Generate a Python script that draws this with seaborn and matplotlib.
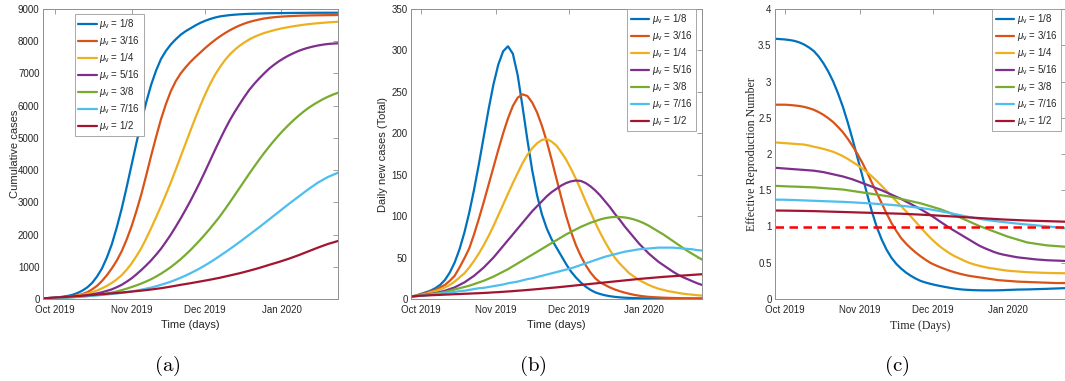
import pandas as pd
import matplotlib
matplotlib.use("Agg")
import matplotlib.pyplot as plt
import seaborn as sns

# ---------------- data ----------------
MU_LABELS = ["1/8", "3/16", "1/4", "5/16", "3/8", "7/16", "1/2"]
COLORS = ["#0072BD", "#D95319", "#EDB120", "#7E2F8E", "#77AC30", "#4DBEEE", "#A2142F"]

START_A = "2019-09-26"   # panel (a)
START_BC = "2019-09-27"  # panels (b) and (c)
STEP_DAYS = 2            # all series sampled every 2 days
SPAN_DAYS = 120

X_TICKS = ["2019-10-01", "2019-11-01", "2019-12-01", "2020-01-01"]
X_TICKLABELS = ["Oct 2019", "Nov 2019", "Dec 2019", "Jan 2020"]

# (a) cumulative cases
cum_1_8 = [20, 29, 40, 53, 70, 95, 130, 185, 260, 360,
           500, 700, 950, 1290, 1700, 2220, 2800, 3460, 4150, 4840,
           5500, 6110, 6650, 7090, 7450, 7700, 7900, 8060, 8200, 8310,
           8400, 8490, 8570, 8635, 8690, 8735, 8770, 8792, 8810, 8824,
           8835, 8843, 8850, 8855, 8860, 8864, 8868, 8870, 8872, 8874,
           8876, 8878, 8879, 8880, 8881, 8882, 8883, 8883, 8884, 8884,
           8885]
cum_3_16 = [20, 27, 35, 44, 55, 70, 90, 115, 150, 210,
            300, 410, 560, 740, 950, 1190, 1480, 1840, 2250, 2730,
            3250, 3840, 4450, 5030, 5580, 6050, 6450, 6760, 7000, 7190,
            7360, 7510, 7650, 7790, 7920, 8040, 8150, 8250, 8340, 8420,
            8490, 8550, 8600, 8640, 8675, 8705, 8728, 8745, 8758, 8769,
            8778, 8785, 8791, 8796, 8800, 8803, 8805, 8807, 8809, 8811,
            8813]
cum_1_4 = [20, 25, 30, 39, 50, 63, 80, 103, 130, 166,
           210, 265, 330, 410, 500, 610, 740, 905, 1100, 1330,
           1580, 1880, 2200, 2535, 2880, 3245, 3620, 4015, 4420, 4825,
           5230, 5625, 6000, 6355, 6680, 6960, 7200, 7410, 7590, 7735,
           7860, 7965, 8060, 8135, 8200, 8255, 8300, 8342, 8380, 8412,
           8440, 8466, 8490, 8511, 8530, 8546, 8560, 8573, 8585, 8595,
           8605]
cum_5_16 = [20, 25, 30, 37, 45, 56, 70, 84, 100, 120,
            145, 175, 210, 252, 300, 365, 440, 535, 640, 765,
            900, 1045, 1200, 1375, 1560, 1775, 2000, 2245, 2500, 2770,
            3050, 3345, 3650, 3972, 4300, 4630, 4950, 5260, 5550, 5810,
            6050, 6283, 6500, 6683, 6850, 7005, 7150, 7270, 7380, 7475,
            7560, 7633, 7700, 7755, 7800, 7838, 7870, 7895, 7915, 7927,
            7935]
cum_3_8 = [20, 24, 28, 34, 40, 47, 55, 64, 75, 89,
           105, 124, 145, 171, 200, 235, 275, 320, 370, 423,
           480, 545, 615, 697, 785, 885, 990, 1110, 1235, 1375,
           1520, 1678, 1840, 2012, 2190, 2378, 2570, 2783, 3000, 3225,
           3450, 3675, 3900, 4118, 4330, 4535, 4730, 4915, 5090, 5255,
           5410, 5555, 5690, 5815, 5930, 6030, 6120, 6205, 6280, 6345,
           6400]
cum_7_16 = [20, 25, 30, 36, 42, 50, 58, 68, 78, 89,
            100, 112, 125, 140, 155, 172, 190, 212, 235, 262,
            290, 322, 355, 396, 440, 488, 540, 598, 660, 728,
            800, 878, 960, 1048, 1140, 1238, 1340, 1444, 1550, 1658,
            1770, 1884, 2000, 2115, 2230, 2350, 2470, 2590, 2710, 2830,
            2950, 3065, 3180, 3295, 3410, 3515, 3620, 3705, 3790, 3855,
            3920]
cum_1_2 = [20, 30, 40, 50, 60, 70, 80, 90, 100, 112,
           125, 137, 150, 162, 175, 187, 200, 215, 230, 245,
           260, 277, 295, 315, 335, 360, 385, 412, 440, 465,
           490, 517, 545, 572, 600, 630, 660, 695, 730, 765,
           800, 840, 880, 922, 965, 1012, 1060, 1105, 1150, 1200,
           1250, 1305, 1360, 1420, 1480, 1540, 1600, 1655, 1710, 1755,
           1800]

# (b) daily new cases (Total)
new_1_8 = [3, 4, 6, 8, 10, 13, 17, 23, 32, 44,
           60, 80, 104, 132, 163, 196, 229, 259, 283, 299,
           305, 296, 270, 232, 192, 155, 125, 102, 85, 72,
           62, 52, 42, 33, 26, 20, 15, 11, 8, 6,
           4.5, 3.4, 2.6, 2.0, 1.6, 1.3, 1.1, 0.9, 0.8, 0.7,
           0.6, 0.55, 0.5, 0.45, 0.4, 0.4, 0.35, 0.35, 0.3, 0.3,
           0.3]
new_3_16 = [3, 4, 6, 7, 9, 11, 14, 17, 22, 28,
            38, 49, 61, 78, 97, 117, 138, 159, 180, 200,
            218, 233, 243, 247, 245, 237, 225, 209, 190, 168,
            145, 122, 100, 81, 65, 52, 41, 32, 25, 20,
            17, 14, 11.5, 9.5, 7.8, 6.3, 5, 4, 3.2, 2.6,
            2.2, 1.9, 1.6, 1.4, 1.2, 1.1, 1.0, 0.9, 0.85, 0.8,
            0.75]
new_1_4 = [3, 4, 5, 6, 8, 9.5, 11.5, 14, 17, 21,
           26, 31, 38, 46, 55, 65, 76, 88, 101, 114,
           127, 140, 152, 164, 174, 182, 188, 192, 193, 190,
           185, 177, 168, 157, 145, 132, 118, 105, 92, 80,
           69, 59, 50, 43, 37, 31, 27, 23, 20, 17,
           14.5, 12.5, 11, 9.5, 8.5, 7.5, 6.5, 5.8, 5.2, 4.6,
           4.1]
new_5_16 = [3, 3.5, 4, 5, 6, 7, 8.5, 10, 12, 14,
            17, 20, 24, 28, 33, 38, 44, 50, 57, 64,
            71, 78, 85, 92, 99, 106, 112, 118, 124, 129,
            133, 137, 140, 142, 143, 142.5, 140, 136, 131, 125,
            118, 111, 103, 96, 88, 81, 74, 67, 61, 55,
            50, 45, 41, 37, 33, 29.5, 26.5, 24, 21.5, 19,
            17]
new_3_8 = [3, 3.5, 4, 5, 5.5, 6.5, 7.5, 8.5, 10, 11.5,
           13, 14.5, 16, 18, 20, 22, 24.5, 27, 30, 33,
           36, 39.5, 43, 46.5, 50, 53.5, 57, 60.5, 64, 67.5,
           71, 74.5, 78, 81, 84, 87, 89.5, 92, 94, 96,
           97.5, 98.5, 99, 99, 98.5, 97.5, 96, 94, 91.5, 88.5,
           85, 81.5, 78, 74, 70, 66, 62, 58, 54.5, 51,
           47.5]
new_7_16 = [3, 3.5, 4, 4.5, 5, 6, 6.5, 7, 8, 8.5,
            9.5, 10, 11, 12, 13, 13.5, 14.5, 15.5, 16.5, 17.5,
            19, 20, 21, 22.5, 24, 25, 26.5, 28, 29.5, 31,
            32.5, 34, 35.5, 37, 39, 41, 43, 45, 47, 49,
            51, 52.5, 54, 55.5, 57, 58, 59, 60, 60.5, 61,
            61.5, 62, 62, 62, 62, 61.5, 61, 60.5, 60, 59,
            58.5]
new_1_2 = [3, 3.5, 4, 4.2, 4.5, 4.8, 5, 5.3, 5.5, 5.8,
           6, 6.3, 6.5, 6.8, 7, 7.3, 7.6, 8, 8.3, 8.7,
           9.1, 9.5, 10, 10.4, 10.9, 11.4, 11.9, 12.4, 13, 13.5,
           14, 14.6, 15.2, 15.8, 16.4, 17, 17.6, 18.2, 18.8, 19.4,
           20, 20.6, 21.2, 21.8, 22.4, 23, 23.6, 24.2, 24.7, 25.2,
           25.7, 26.2, 26.7, 27.1, 27.5, 27.9, 28.3, 28.7, 29.1, 29.5,
           29.9]

# (c) effective reproduction number
rt_1_8 = [3.59, 3.585, 3.58, 3.572, 3.56, 3.54, 3.51, 3.47, 3.42, 3.345,
          3.25, 3.135, 3.0, 2.835, 2.65, 2.435, 2.2, 1.95, 1.7, 1.445,
          1.2, 0.99, 0.82, 0.68, 0.57, 0.485, 0.42, 0.365, 0.32, 0.282,
          0.25, 0.228, 0.21, 0.194, 0.18, 0.167, 0.155, 0.144, 0.135, 0.129,
          0.125, 0.122, 0.12, 0.119, 0.119, 0.119, 0.12, 0.122, 0.125, 0.127,
          0.13, 0.131, 0.132, 0.134, 0.136, 0.138, 0.14, 0.143, 0.145, 0.148,
          0.15]
rt_3_16 = [2.68, 2.68, 2.68, 2.676, 2.67, 2.662, 2.65, 2.632, 2.61, 2.578,
           2.54, 2.493, 2.44, 2.373, 2.3, 2.21, 2.11, 2.0, 1.88, 1.745,
           1.6, 1.46, 1.32, 1.18, 1.05, 0.94, 0.84, 0.765, 0.7, 0.642,
           0.59, 0.543, 0.5, 0.468, 0.44, 0.414, 0.39, 0.369, 0.35, 0.334,
           0.32, 0.31, 0.3, 0.29, 0.28, 0.27, 0.26, 0.255, 0.25, 0.245,
           0.24, 0.237, 0.235, 0.232, 0.23, 0.227, 0.225, 0.222, 0.22, 0.22,
           0.22]
rt_1_4 = [2.16, 2.155, 2.15, 2.145, 2.14, 2.135, 2.13, 2.117, 2.1, 2.086,
          2.07, 2.051, 2.03, 2.002, 1.97, 1.932, 1.89, 1.847, 1.8, 1.747,
          1.69, 1.627, 1.56, 1.491, 1.42, 1.35, 1.28, 1.21, 1.14, 1.065,
          0.99, 0.915, 0.845, 0.782, 0.725, 0.675, 0.63, 0.592, 0.56, 0.528,
          0.5, 0.478, 0.46, 0.444, 0.43, 0.42, 0.41, 0.399, 0.39, 0.385,
          0.38, 0.375, 0.37, 0.367, 0.365, 0.362, 0.36, 0.358, 0.357, 0.356,
          0.355]
rt_5_16 = [1.81, 1.805, 1.8, 1.795, 1.79, 1.785, 1.78, 1.775, 1.77, 1.76,
           1.75, 1.735, 1.72, 1.705, 1.69, 1.67, 1.65, 1.625, 1.6, 1.575,
           1.55, 1.525, 1.5, 1.47, 1.44, 1.41, 1.38, 1.345, 1.31, 1.275,
           1.24, 1.2, 1.16, 1.115, 1.07, 1.025, 0.98, 0.94, 0.9, 0.86,
           0.82, 0.78, 0.74, 0.708, 0.68, 0.653, 0.63, 0.613, 0.6, 0.587,
           0.575, 0.567, 0.56, 0.552, 0.545, 0.54, 0.535, 0.532, 0.53, 0.527,
           0.525]
rt_3_8 = [1.56, 1.558, 1.555, 1.552, 1.55, 1.548, 1.545, 1.542, 1.54, 1.535,
          1.53, 1.525, 1.52, 1.515, 1.51, 1.5, 1.49, 1.48, 1.47, 1.46,
          1.45, 1.44, 1.43, 1.42, 1.41, 1.395, 1.38, 1.365, 1.35, 1.335,
          1.32, 1.3, 1.28, 1.26, 1.24, 1.215, 1.19, 1.16, 1.13, 1.1,
          1.07, 1.04, 1.01, 0.985, 0.96, 0.935, 0.91, 0.885, 0.86, 0.84,
          0.82, 0.8, 0.78, 0.77, 0.76, 0.75, 0.74, 0.735, 0.73, 0.725,
          0.72]
rt_7_16 = [1.37, 1.37, 1.369, 1.367, 1.365, 1.362, 1.36, 1.357, 1.355, 1.352,
           1.35, 1.347, 1.345, 1.342, 1.34, 1.336, 1.333, 1.329, 1.325, 1.321,
           1.317, 1.312, 1.308, 1.303, 1.298, 1.292, 1.286, 1.279, 1.272, 1.264,
           1.256, 1.246, 1.236, 1.224, 1.212, 1.199, 1.186, 1.172, 1.158, 1.145,
           1.132, 1.12, 1.108, 1.097, 1.087, 1.078, 1.07, 1.062, 1.055, 1.047,
           1.04, 1.033, 1.027, 1.021, 1.015, 1.009, 1.003, 0.996, 0.99, 0.982,
           0.975]
rt_1_2 = [1.22, 1.22, 1.219, 1.218, 1.217, 1.216, 1.215, 1.213, 1.212, 1.21,
          1.208, 1.206, 1.204, 1.202, 1.2, 1.198, 1.196, 1.194, 1.192, 1.19,
          1.188, 1.186, 1.184, 1.182, 1.18, 1.178, 1.176, 1.173, 1.17, 1.167,
          1.164, 1.16, 1.157, 1.153, 1.149, 1.145, 1.141, 1.137, 1.133, 1.129,
          1.125, 1.121, 1.117, 1.113, 1.109, 1.105, 1.101, 1.097, 1.094, 1.091,
          1.088, 1.085, 1.082, 1.08, 1.078, 1.076, 1.074, 1.072, 1.07, 1.068,
          1.066]
RT_THRESHOLD = 1.0

CUM = [cum_1_8, cum_3_16, cum_1_4, cum_5_16, cum_3_8, cum_7_16, cum_1_2]
NEW = [new_1_8, new_3_16, new_1_4, new_5_16, new_3_8, new_7_16, new_1_2]
RT = [rt_1_8, rt_3_16, rt_1_4, rt_5_16, rt_3_8, rt_7_16, rt_1_2]

# ---------------- style ----------------
sns.set_style("white")
plt.rcParams["font.family"] = ["Liberation Sans", "DejaVu Sans"]
plt.rcParams["mathtext.fontset"] = "custom"
plt.rcParams["mathtext.rm"] = "Liberation Sans"
plt.rcParams["mathtext.it"] = "Liberation Sans:italic"
plt.rcParams["mathtext.bf"] = "Liberation Sans:bold"

TXT = "#262626"
SPINE = "#8f8f8f"
W, H = 1065, 381

fig = plt.figure(figsize=(W / 100, H / 100), dpi=100)


def add_axes(left, right, top=9, bottom=299):
    return fig.add_axes([left / W, 1 - bottom / H, (right - left) / W, (bottom - top) / H])


def long_df(start, series):
    dates = pd.date_range(start, periods=len(series[0]), freq=f"{STEP_DAYS}D")
    frames = [pd.DataFrame({"date": dates, "value": vals, "mu": lab})
              for lab, vals in zip(MU_LABELS, series)]
    return pd.concat(frames, ignore_index=True)


def draw(ax, df):
    sns.lineplot(data=df, x="date", y="value", hue="mu", hue_order=MU_LABELS,
                 palette=COLORS, linewidth=1.6, ax=ax, legend=False,
                 estimator=None, sort=False)


def style(ax, start, ylim, yticks, yticklabels, ylabel, xlabel, serif=False, ylabelpad=2.0):
    t0 = pd.Timestamp(start)
    ax.set_xlim(t0, t0 + pd.Timedelta(days=SPAN_DAYS))
    ax.set_xticks([pd.Timestamp(t) for t in X_TICKS])
    ax.set_xticklabels(X_TICKLABELS)
    ax.set_ylim(*ylim)
    ax.set_yticks(yticks)
    ax.set_yticklabels(yticklabels)
    for s in ax.spines.values():
        s.set_color(SPINE)
        s.set_linewidth(0.7)
    ax.tick_params(direction="in", length=3.5, width=0.6, color=SPINE, top=True, right=True,
                   labelsize=7, labelcolor=TXT)
    ax.tick_params(axis="x", pad=4)
    ax.tick_params(axis="y", pad=2.5)
    fam = ["Liberation Serif", "DejaVu Serif"] if serif else ["Liberation Sans", "DejaVu Sans"]
    size = 8.6 if serif else 8
    ax.set_xlabel(xlabel, fontsize=size, color=TXT, family=fam, labelpad=4)
    ax.set_ylabel(ylabel, fontsize=size, color=TXT, family=fam, labelpad=ylabelpad)


def add_legend(ax, loc, anchor):
    handles = ax.get_lines()[:len(MU_LABELS)]
    labels = [r"$\mu_{\rm v}$ = " + m for m in MU_LABELS]
    leg = ax.legend(handles, labels, loc=loc, bbox_to_anchor=anchor, borderaxespad=0,
                    fontsize=7, frameon=True, fancybox=False, framealpha=1,
                    edgecolor="#9a9a9a", handlelength=1.9, handletextpad=0.25,
                    borderpad=0.35, labelspacing=0.3)
    leg.get_frame().set_linewidth(0.6)
    for t in leg.get_texts():
        t.set_color(TXT)


# (a)
ax_a = add_axes(43, 338)
draw(ax_a, long_df(START_A, CUM))
style(ax_a, START_A, (0, 9000), list(range(0, 9001, 1000)),
      [str(v) for v in range(0, 9001, 1000)], "Cumulative cases", "Time (days)", ylabelpad=-1.5)
add_legend(ax_a, "upper left", ((75 - 43) / 295, 1 - 5 / 290))

# (b)
ax_b = add_axes(411, 702)
draw(ax_b, long_df(START_BC, NEW))
style(ax_b, START_BC, (0, 350), list(range(0, 351, 50)),
      [str(v) for v in range(0, 351, 50)], "Daily new cases (Total)", "Time (days)", ylabelpad=2.5)
add_legend(ax_b, "upper right", ((696 - 411) / 291, 1.0))

# (c)
ax_c = add_axes(775, 1066)
draw(ax_c, long_df(START_BC, RT))
ax_c.axhline(RT_THRESHOLD, color="#FF0000", linestyle="--", linewidth=1.8, dashes=(3.4, 2.2))
yt_c = [0, 0.5, 1, 1.5, 2, 2.5, 3, 3.5, 4]
style(ax_c, START_BC, (0, 4), yt_c, ["0", "0.5", "1", "1.5", "2", "2.5", "3", "3.5", "4"],
      "Effective Reproduction Number", "Time (Days)", serif=True, ylabelpad=0)
add_legend(ax_c, "upper right", ((1061 - 775) / 291, 1.0))

# captions
for label, xc in (("(a)", 167), ("(b)", 533), ("(c)", 897)):
    fig.text(xc / W, 1 - 366 / H, r"$\mathrm{" + label + "}$", ha="center", va="center",
             fontsize=15, color="black", math_fontfamily="cm")

fig.savefig("out.png", dpi=100)
